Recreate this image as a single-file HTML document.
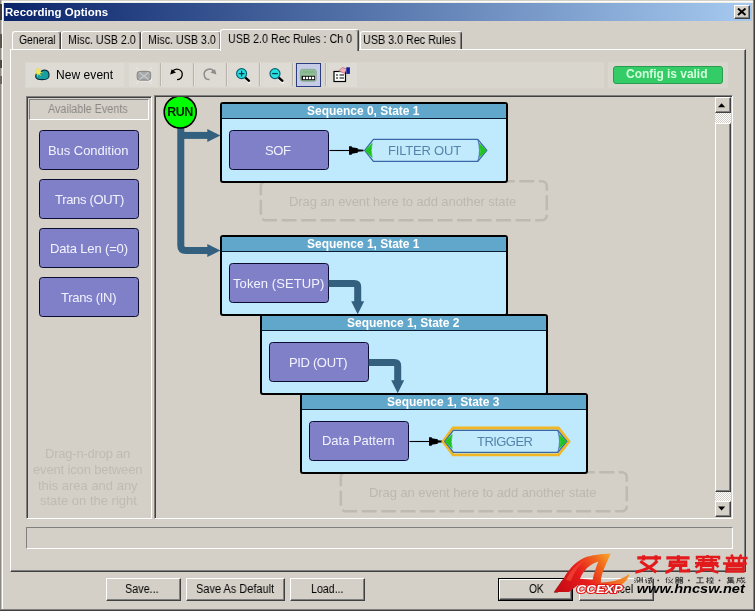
<!DOCTYPE html>
<html><head><meta charset="utf-8">
<style>
*{box-sizing:border-box;margin:0;padding:0}
html,body{width:755px;height:611px;overflow:hidden;background:#d4d0c8}
body{position:relative;font-family:"Liberation Sans",sans-serif;font-size:12px;color:#000}
.a{position:absolute}
.t{position:absolute;white-space:nowrap;will-change:transform}
.sunk2{position:absolute;border:1px solid;border-color:#808080 #fff #fff #808080;box-shadow:inset 1px 1px 0 #404040}
.sunk1{position:absolute;border:1px solid;border-color:#808080 #fff #fff #808080}
.btn{position:absolute;background:#d4d0c8;border:1px solid;border-color:#fff #404040 #404040 #fff;box-shadow:inset -1px -1px 0 #808080}
.tab{position:absolute;background:#d4d0c8;border:1px solid;border-color:#fff #404040 transparent #fff;border-bottom:0;border-radius:3px 3px 0 0;box-shadow:inset -1px 0 0 #808080}
.ev{position:absolute;width:100px;height:39.5px;background:#8080c8;border:1.2px solid #0c0c30;border-radius:3.5px}
.st{position:absolute;width:287.8px;height:80.5px;border:2px solid #000;border-radius:3px;background:#bfeafd;overflow:hidden}
.sh{position:absolute;left:0;right:0;top:0;height:13.6px;background:#61a7cb}
.sl{position:absolute;left:0;right:0;top:13.6px;height:1.3px;background:#0a1c30}
.sep{position:absolute;width:2px;top:63px;height:23px;border-left:1px solid #b8b4ac;border-right:1px solid #e6e4de}
.dash{position:absolute;width:288.5px;height:41.5px;border:2.5px dashed #bebab2;border-radius:6px}
</style></head><body>
<!-- window frame -->
<div class="a" style="left:2px;top:1px;width:751px;height:1px;background:#fff"></div><div class="a" style="left:2px;top:2px;width:751px;height:1px;background:#eeede8"></div>
<div class="a" style="left:2px;top:1px;width:1px;height:608px;background:#fff"></div>
<div class="a" style="left:0;top:609px;width:755px;height:1px;background:#808080"></div>
<div class="a" style="left:0;top:610px;width:755px;height:1px;background:#404040"></div>
<div class="a" style="left:753px;top:0;width:1px;height:610px;background:#808080"></div>
<div class="a" style="left:754px;top:0;width:1px;height:611px;background:#404040"></div>
<div class="a" style="left:0;top:0;width:1px;height:609px;background:#8e8a82"></div><div class="a" style="left:1px;top:0;width:1px;height:609px;background:#c4c0b8"></div><div class="a" style="left:0;top:4px;width:1.5px;height:16px;background:#3a3a3a"></div><div class="a" style="left:0;top:34px;width:1.5px;height:14px;background:#5a5648"></div><div class="a" style="left:0;top:60px;width:1.5px;height:8px;background:#4a4a40"></div><div class="a" style="left:0;top:76px;width:1.5px;height:8px;background:#6a6658"></div>
<!-- title bar -->
<div class="a" style="left:4px;top:3px;width:748px;height:18px;background:linear-gradient(90deg,#0a246a 0%,#a6caf0 100%)"></div>
<div class="btn" style="left:734px;top:5px;width:16px;height:14px"></div>
<svg class="a" style="left:737px;top:8px" width="10" height="8" viewBox="0 0 10 8"><path d="M1 0.5 L8.5 7 M8.5 0.5 L1 7" stroke="#000" stroke-width="1.9" fill="none"/></svg>

<!-- tabs -->
<div class="tab" style="left:12px;top:31px;width:49px;height:19px"></div>
<div class="tab" style="left:61px;top:31px;width:80px;height:19px"></div>
<div class="tab" style="left:141px;top:31px;width:80px;height:19px"></div>
<div class="tab" style="left:360px;top:31px;width:102px;height:19px"></div>
<!-- tab panel -->
<div class="a" style="left:10px;top:49px;width:736px;height:523px;background:#d4d0c8;border:1px solid;border-color:#fff #404040 #404040 #fff;box-shadow:inset -1px -1px 0 #808080"></div>
<div class="tab" style="left:220px;top:29px;width:139px;height:22px"></div>

<!-- toolbar -->
<div class="a" style="left:25px;top:61.5px;width:703px;height:26.3px;background:#d9d6ce"></div><div class="a" style="left:25.5px;top:62.5px;width:98.8px;height:24.5px;background:#dedbd4"></div><div class="a" style="left:128.7px;top:62.5px;width:29.8px;height:24.5px;background:#dedbd4"></div><div class="a" style="left:163px;top:62.5px;width:28.5px;height:24.5px;background:#dedbd4"></div><div class="a" style="left:196px;top:62.5px;width:28.5px;height:24.5px;background:#dedbd4"></div><div class="a" style="left:229px;top:62.5px;width:28.5px;height:24.5px;background:#dedbd4"></div><div class="a" style="left:262px;top:62.5px;width:28.5px;height:24.5px;background:#dedbd4"></div><div class="a" style="left:328px;top:62.5px;width:29.0px;height:24.5px;background:#dedbd4"></div>
<div class="a" style="left:603.5px;top:62px;width:4.5px;height:25.5px;background:#d4d0c8"></div>
<div class="sep" style="left:160px"></div>
<div class="sep" style="left:193px"></div>
<div class="sep" style="left:226px"></div>
<div class="sep" style="left:259px"></div>
<div class="sep" style="left:292px"></div>
<div class="sep" style="left:325px"></div>
<div class="a" style="left:296px;top:63px;width:25px;height:24px;background:#c6cce6;border:1px solid #2c3c80"></div>
<svg class="a" style="left:25px;top:60px" width="340" height="30" viewBox="25 60 340 30">
<!-- new event icon -->
<path d="M35.6 76 C35.6 73 38 72.4 41 72.6 C41.6 70.4 44 69.9 46 70.4 C48.4 71 49.2 73 49 76 C48.8 79 47 79.6 42.5 79.6 C38 79.6 35.6 79.2 35.6 76 Z" fill="#18a0a0" stroke="#0a2c40" stroke-width="1.1"/>
<path d="M38.4 68.2 L38.9 71 L41.4 69 L39.8 71.6 L42.6 72.6 L39.8 73.2 L40.8 75.8 L38.6 73.9 L37.4 76.4 L37.3 73.6 L34.8 74.4 L36.6 72.5 L34.8 70.8 L37.3 71.2 L36.4 68.6 Z" fill="#f4f050" stroke="#d8d040" stroke-width="0.3"/>
<!-- delete (disabled) -->
<path d="M136 67.5 L152 84 M152 67.5 L136 84" stroke="#e6e4de" stroke-width="1.2"/>
<rect x="138" y="72.6" width="14" height="9" rx="2.5" fill="#f2f1ec"/>
<rect x="137.2" y="71.4" width="13.6" height="8.8" rx="2.5" fill="#a6a8a8" stroke="#7c7c7c" stroke-width="0.9"/>
<path d="M139.5 72.5 L148.5 79.5 M148.5 72.5 L139.5 79.5" stroke="#c6cacc" stroke-width="1.3"/>
<!-- undo -->
<path d="M172.5 71.8 A5.2 5.2 0 1 1 177 79.6" fill="none" stroke="#000" stroke-width="1.3"/>
<path d="M170.2 74.6 L171.6 69.2 L176 72.6 Z" fill="#000"/>
<!-- redo -->
<path d="M214 72 A5.2 5.2 0 1 0 209.5 79.6" fill="none" stroke="#8c8c8c" stroke-width="1.5"/>
<path d="M216.4 74.6 L215 69.2 L210.4 72.6 Z" fill="#8c8c8c"/>
<!-- zoom in -->
<path d="M246.4 79.6 L249.6 82.6" stroke="#f4f4f0" stroke-width="2.2" stroke-linecap="round"/><path d="M245.4 77.6 L249 80.8" stroke="#000" stroke-width="2.3" stroke-linecap="round"/>
<circle cx="241.6" cy="73.6" r="5" fill="#28e0e0" stroke="#0a6070" stroke-width="1.2"/>
<path d="M238.8 73.6 H244.4 M241.6 70.8 V76.4" stroke="#0a3c50" stroke-width="1.3"/>
<!-- zoom out -->
<path d="M279.8 79.6 L283 82.6" stroke="#f4f4f0" stroke-width="2.2" stroke-linecap="round"/><path d="M278.8 77.6 L282.4 80.8" stroke="#000" stroke-width="2.3" stroke-linecap="round"/>
<circle cx="275" cy="73.6" r="5" fill="#28e0e0" stroke="#0a6070" stroke-width="1.2"/>
<path d="M272.2 73.6 H277.8" stroke="#0a3c50" stroke-width="1.3"/>
<!-- fit icon -->
<rect x="300.3" y="69.3" width="16" height="12" rx="2.5" fill="#8fbf96" stroke="#7a9a80" stroke-width="0.6"/>
<path d="M302.5 72.5 l1.5 -1 l1.5 1 l1.5 -1 l1.5 1 l1.5 -1 l1.5 1 l1.5 -1 l1.5 1" stroke="#6aa070" stroke-width="0.7" fill="none"/>
<rect x="301.6" y="75.8" width="13.4" height="4.4" fill="#101010"/>
<rect x="303" y="76.8" width="2.2" height="2.4" fill="#fff"/><rect x="306" y="76.8" width="2.2" height="2.4" fill="#fff"/><rect x="309" y="76.8" width="2.2" height="2.4" fill="#fff"/><rect x="312" y="76.8" width="2.2" height="2.4" fill="#fff"/>
<!-- properties -->
<rect x="334" y="71.5" width="11.5" height="10" fill="#fff" stroke="#000" stroke-width="1.2"/>
<path d="M336 75 H338 M339.5 75 H344 M336 78 H338 M339.5 78 H344" stroke="#000" stroke-width="1.1"/>
<path d="M338.5 71 L342.5 67.5 L347 69 L344.5 73.5 L341.5 72 Z" fill="#f0b0b8" stroke="#a04050" stroke-width="0.5"/>
<rect x="346.3" y="67.3" width="3.6" height="6.6" fill="#1020a0"/>
</svg>
<!-- status -->
<div class="a" style="left:613px;top:66px;width:110px;height:18px;background:#33cc66;border:1px solid #2a9c52;border-radius:3px"></div>

<!-- left panel -->
<div class="sunk2" style="left:25.5px;top:95.5px;width:126px;height:423.5px"></div>
<div class="sunk1" style="left:28.5px;top:98.5px;width:120.5px;height:21.5px"></div>
<div class="ev" style="left:39px;top:130px"></div>
<div class="ev" style="left:39px;top:179.2px"></div>
<div class="ev" style="left:39px;top:228.2px"></div>
<div class="ev" style="left:39px;top:277.2px"></div>

<!-- right panel -->
<div class="sunk2" style="left:154px;top:95.3px;width:579px;height:423.7px"></div>
<!-- scrollbar -->
<div class="a" style="left:714.5px;top:97.3px;width:16px;height:419.5px;background:repeating-conic-gradient(#fff 0% 25%, #d4d0c8 0% 50%) 0 0/2px 2px"></div>
<div class="btn" style="left:714.5px;top:97.3px;width:16px;height:15.5px"></div>
<div class="btn" style="left:714.5px;top:122.6px;width:16px;height:369.4px"></div>
<div class="btn" style="left:714.5px;top:501px;width:16px;height:15.8px"></div>
<svg class="a" style="left:714px;top:97px" width="18" height="422" viewBox="714 97 18 422"><path d="M718 107.2 L721.6 103.2 L725.2 107.2 Z" fill="#000"/><path d="M718 506.5 L721.6 510.5 L725.2 506.5 Z" fill="#000"/></svg>

<!-- dashed placeholders -->
<svg class="a" style="left:250px;top:170px" width="400" height="350" viewBox="250 170 400 350"><g fill="none" stroke="#bebab2" stroke-width="2.6" stroke-dasharray="15 4.5">
<rect x="260.8" y="181.3" width="286" height="39" rx="5"/><rect x="340.8" y="472.3" width="286" height="39" rx="5"/></g></svg>

<!-- state boxes -->
<div class="st" style="left:220.4px;top:102.4px"><div class="sh"></div><div class="sl"></div></div>
<div class="st" style="left:220.4px;top:235px"><div class="sh"></div><div class="sl"></div></div>
<div class="st" style="left:260.2px;top:314px"><div class="sh"></div><div class="sl"></div></div>
<div class="st" style="left:300.2px;top:393px"><div class="sh"></div><div class="sl"></div></div>
<div class="ev" style="left:229.1px;top:130px"></div>
<div class="ev" style="left:229.1px;top:263.2px"></div>
<div class="ev" style="left:269.1px;top:342.3px"></div>
<div class="ev" style="left:308.8px;top:421.2px"></div>

<!-- diagram svg -->
<svg class="a" style="left:156px;top:97px" width="560" height="420" viewBox="156 97 560 420">
<g fill="none" stroke="#33607f" stroke-width="7">
<path d="M180.8 126 V245.6 Q180.8 250.6 185.8 250.6 H208"/>
<path d="M180.8 135.4 H208"/>
<path d="M328.6 283.5 H354.2 Q357.7 283.5 357.7 287 V302"/>
<path d="M368.6 362.5 H394.2 Q397.7 362.5 397.7 366 V381"/>
</g>
<g fill="#33607f">
<path d="M207.3 128.9 L220.4 135.4 L207.3 141.9 Z"/>
<path d="M207.3 244.1 L220.4 250.6 L207.3 257.1 Z"/>
<path d="M351.2 301.2 H364.2 L357.7 314.2 Z"/>
<path d="M391.2 380.2 H404.2 L397.7 393.2 Z"/>
</g>
<circle cx="180.2" cy="112" r="16" fill="#00ff00" stroke="#000" stroke-width="1.6"/>
<!-- thin arrows -->
<g>
<path d="M329.5 150.5 H350" stroke="#000" stroke-width="1.1"/>
<path d="M349 146.2 H351.8 V147.3 L357.8 148.2 V149.3 L363.6 149.8 V151.2 L357.8 151.7 V152.8 L351.8 153.7 V154.8 H349 Z" fill="#000"/>
</g>
<g transform="translate(80,291)">
<path d="M329.5 150.5 H350" stroke="#000" stroke-width="1.1"/>
<path d="M349 146.2 H351.8 V147.3 L357.8 148.2 V149.3 L363.6 149.8 V151.2 L357.8 151.7 V152.8 L351.8 153.7 V154.8 H349 Z" fill="#000"/>
</g>
<!-- filter out -->
<g>
<path d="M373.4 139.3 H477.8 L486.8 150.4 L477.8 161.4 H373.4 L364.7 150.4 Z" fill="#c1ebfd" stroke="#3868a8" stroke-width="1.3" stroke-linejoin="round"/>
<path d="M365 150.4 L372.2 143.4 Q370.2 150.4 372.2 157.4 Z" fill="#20c420" stroke="#20c420" stroke-width="0.7" stroke-linejoin="round"/>
<path d="M479.2 143.4 Q481.4 150.4 479.2 157.4 L486.4 150.4 Z" fill="#20c420" stroke="#20c420" stroke-width="0.7" stroke-linejoin="round"/>
<path d="M477.8 139.6 Q481.2 150.4 477.8 161.2" fill="none" stroke="#3868a8" stroke-width="1" opacity="0.8"/>
</g>
<path d="M453 428 H558.5 L569 441.4 L558.5 454.8 H453 L443 441.4 Z" fill="none" stroke="#f0b624" stroke-width="2.8" stroke-linejoin="miter"/>
<g transform="translate(80,291)">
<path d="M373.4 139.3 H477.8 L486.8 150.4 L477.8 161.4 H373.4 L364.7 150.4 Z" fill="#c1ebfd" stroke="#3868a8" stroke-width="1.3" stroke-linejoin="round"/>
<path d="M365 150.4 L372.2 143.4 Q370.2 150.4 372.2 157.4 Z" fill="#20c420" stroke="#20c420" stroke-width="0.7" stroke-linejoin="round"/>
<path d="M479.2 143.4 Q481.4 150.4 479.2 157.4 L486.4 150.4 Z" fill="#20c420" stroke="#20c420" stroke-width="0.7" stroke-linejoin="round"/>
<path d="M477.8 139.6 Q481.2 150.4 477.8 161.2" fill="none" stroke="#3868a8" stroke-width="1" opacity="0.8"/>
</g>
</svg>

<div class="t" style="left:162px;top:105.5px;width:36px;text-align:center;font-size:12.5px;line-height:13px;font-weight:bold;color:#062006;letter-spacing:-0.5px">RUN</div>

<!-- status bar -->
<div class="sunk1" style="left:26px;top:526.5px;width:706.5px;height:22.5px"></div>

<!-- buttons -->
<div class="btn" style="left:105.5px;top:578px;width:75px;height:22.5px"></div>
<div class="btn" style="left:186px;top:578px;width:99px;height:22.5px"></div>
<div class="btn" style="left:289.7px;top:578px;width:75.5px;height:22.5px"></div>
<div class="a" style="left:498px;top:577.5px;width:75px;height:23px;border:1px solid #000"></div>
<div class="btn" style="left:499px;top:578.5px;width:73px;height:21px"></div>
<div class="btn" style="left:578.5px;top:578px;width:75px;height:22.5px"></div>
<div class="t" id="title" style="left:5.2px;top:6.24px;font-size:11px;line-height:12.64px;font-weight:bold;color:#fff;letter-spacing:0.000px;transform:scaleX(1.0404);transform-origin:0 0;">Recording Options</div>
<div class="t" id="tab1" style="left:18.6px;top:34.34px;font-size:12px;line-height:13.79px;font-weight:normal;color:#000;letter-spacing:0.000px;transform:scaleX(0.8594);transform-origin:0 0;">General</div>
<div class="t" id="tab2" style="left:67.5px;top:34.34px;font-size:12px;line-height:13.79px;font-weight:normal;color:#000;letter-spacing:0.000px;transform:scaleX(0.8917);transform-origin:0 0;">Misc. USB 2.0</div>
<div class="t" id="tab3" style="left:147.5px;top:34.34px;font-size:12px;line-height:13.79px;font-weight:normal;color:#000;letter-spacing:0.000px;transform:scaleX(0.8931);transform-origin:0 0;">Misc. USB 3.0</div>
<div class="t" id="tab4" style="left:227.6px;top:32.94px;font-size:12px;line-height:13.79px;font-weight:normal;color:#000;letter-spacing:0.000px;transform:scaleX(0.8945);transform-origin:0 0;">USB 2.0 Rec Rules : Ch 0</div>
<div class="t" id="tab5" style="left:363.4px;top:34.34px;font-size:12px;line-height:13.79px;font-weight:normal;color:#000;letter-spacing:0.000px;transform:scaleX(0.8966);transform-origin:0 0;">USB 3.0 Rec Rules</div>
<div class="t" id="newev" style="left:55.6px;top:68.84px;font-size:12px;line-height:13.79px;font-weight:normal;color:#000;letter-spacing:0.062px;">New event</div>
<div class="t" id="cfg" style="left:626.3px;top:67.84px;font-size:12px;line-height:13.79px;font-weight:bold;color:#d4ffdc;letter-spacing:-0.037px;">Config is valid</div>
<div class="t" id="avail" style="left:47.8px;top:103.04px;font-size:12px;line-height:13.79px;font-weight:normal;color:#8c8a86;letter-spacing:0.000px;transform:scaleX(0.9006);transform-origin:0 0;">Available Events</div>
<div class="t" id="ev1" style="left:48.3px;top:143.54px;font-size:13px;line-height:14.94px;font-weight:normal;color:#f2f2ff;letter-spacing:-0.046px;">Bus Condition</div>
<div class="t" id="ev2" style="left:54.5px;top:192.54px;font-size:13px;line-height:14.94px;font-weight:normal;color:#f2f2ff;letter-spacing:-0.317px;">Trans (OUT)</div>
<div class="t" id="ev3" style="left:49.7px;top:241.54px;font-size:13px;line-height:14.94px;font-weight:normal;color:#f2f2ff;letter-spacing:-0.155px;">Data Len (=0)</div>
<div class="t" id="ev4" style="left:61.3px;top:290.54px;font-size:13px;line-height:14.94px;font-weight:normal;color:#f2f2ff;letter-spacing:-0.281px;">Trans (IN)</div>
<div class="t" id="h1" style="left:44.7px;top:446.94px;font-size:13px;line-height:14.94px;font-weight:normal;color:#bfbbb3;letter-spacing:-0.220px;">Drag-n-drop an</div>
<div class="t" id="h2" style="left:33.1px;top:462.84px;font-size:13px;line-height:14.94px;font-weight:normal;color:#bfbbb3;letter-spacing:-0.149px;">event icon between</div>
<div class="t" id="h3" style="left:38.0px;top:478.63px;font-size:13px;line-height:14.94px;font-weight:normal;color:#bfbbb3;letter-spacing:-0.008px;">this area and any</div>
<div class="t" id="h4" style="left:39.7px;top:494.44px;font-size:13px;line-height:14.94px;font-weight:normal;color:#bfbbb3;letter-spacing:0.003px;">state on the right</div>
<div class="t" id="s01" style="left:306.7px;top:104.74px;font-size:12px;line-height:13.79px;font-weight:bold;color:#fff;letter-spacing:-0.012px;">Sequence 0, State 1</div>
<div class="t" id="s11" style="left:306.7px;top:237.74px;font-size:12px;line-height:13.79px;font-weight:bold;color:#fff;letter-spacing:-0.012px;">Sequence 1, State 1</div>
<div class="t" id="s12" style="left:346.5px;top:316.74px;font-size:12px;line-height:13.79px;font-weight:bold;color:#fff;letter-spacing:-0.012px;">Sequence 1, State 2</div>
<div class="t" id="s13" style="left:386.5px;top:395.74px;font-size:12px;line-height:13.79px;font-weight:bold;color:#fff;letter-spacing:-0.012px;">Sequence 1, State 3</div>
<div class="t" id="sof" style="left:265.3px;top:143.54px;font-size:13px;line-height:14.94px;font-weight:normal;color:#f2f2ff;letter-spacing:-0.417px;">SOF</div>
<div class="t" id="tok" style="left:232.8px;top:276.74px;font-size:13px;line-height:14.94px;font-weight:normal;color:#f2f2ff;letter-spacing:0.082px;">Token (SETUP)</div>
<div class="t" id="pid" style="left:289.3px;top:355.63px;font-size:13px;line-height:14.94px;font-weight:normal;color:#f2f2ff;letter-spacing:-0.349px;">PID (OUT)</div>
<div class="t" id="dp" style="left:322.2px;top:434.34px;font-size:13px;line-height:14.94px;font-weight:normal;color:#f2f2ff;letter-spacing:-0.027px;">Data Pattern</div>
<div class="t" id="fo" style="left:388.4px;top:143.54px;font-size:13px;line-height:14.94px;font-weight:normal;color:#5584aa;letter-spacing:-0.197px;">FILTER OUT</div>
<div class="t" id="trg" style="left:476.8px;top:434.54px;font-size:13px;line-height:14.94px;font-weight:normal;color:#5584aa;letter-spacing:-0.556px;">TRIGGER</div>
<div class="t" id="d1" style="left:289.2px;top:194.63px;font-size:13px;line-height:14.94px;font-weight:normal;color:#bcb8b0;letter-spacing:-0.088px;">Drag an event here to add another state</div>
<div class="t" id="d2" style="left:368.7px;top:485.54px;font-size:13px;line-height:14.94px;font-weight:normal;color:#bcb8b0;letter-spacing:-0.078px;">Drag an event here to add another state</div>
<div class="t" id="b1" style="left:125.4px;top:582.94px;font-size:12px;line-height:13.79px;font-weight:normal;color:#000;letter-spacing:0.000px;transform:scaleX(0.8994);transform-origin:0 0;">Save...</div>
<div class="t" id="b2" style="left:195.9px;top:582.94px;font-size:12px;line-height:13.79px;font-weight:normal;color:#000;letter-spacing:0.000px;transform:scaleX(0.9146);transform-origin:0 0;">Save As Default</div>
<div class="t" id="b3" style="left:311.2px;top:582.94px;font-size:12px;line-height:13.79px;font-weight:normal;color:#000;letter-spacing:0.000px;transform:scaleX(0.8855);transform-origin:0 0;">Load...</div>
<div class="t" id="b4" style="left:528.5px;top:582.94px;font-size:12px;line-height:13.79px;font-weight:normal;color:#000;letter-spacing:0.000px;transform:scaleX(0.8476);transform-origin:0 0;">OK</div>
<div class="t" id="b5" style="left:600.0px;top:582.94px;font-size:12px;line-height:13.79px;font-weight:normal;color:#000;letter-spacing:0.000px;transform:scaleX(0.8887);transform-origin:0 0;">Cancel</div>
<svg class="a" style="left:550px;top:548px;will-change:transform" width="205" height="60" viewBox="550 548 205 60">
<defs>
<linearGradient id="lg" gradientUnits="userSpaceOnUse" x1="560" y1="590" x2="608" y2="554"><stop offset="0" stop-color="#c80c14"/><stop offset="0.45" stop-color="#e81c1c"/><stop offset="0.8" stop-color="#f06a1c"/><stop offset="1" stop-color="#f8a028"/></linearGradient>
<linearGradient id="lg2" gradientUnits="userSpaceOnUse" x1="600" y1="584" x2="629" y2="574"><stop offset="0" stop-color="#e8401c"/><stop offset="1" stop-color="#f89828"/></linearGradient>
</defs>
<path d="M553.6 592.6 L562.6 579.4 L565.4 580 L557.6 592.8 Z" fill="#8a1c12"/>
<path fill-rule="evenodd" fill="url(#lg)" d="M554.6 592 L563.6 578.7 C567 572 574 562.5 583.7 558 C592 554.6 602 554 610.7 553.8 L608 559.7 C605.5 565 602.5 572 601.2 577.7 L600.6 586.6 L578 585 L570.8 590.6 L569 592 Z M580 578.8 C583 571 589 564.2 598.4 561.4 C596.4 566 594 573 592.6 579.8 Z"/>
<path fill="url(#lg2)" d="M600.6 582.4 C611 582.6 622 580 629.4 573.8 C628 580 623 585.4 616 587 L600.4 587 Z"/>
<path d="M566 580 C570 571 577 563 586 559.5 C580 564 574 572 571 581 Z" fill="#f04838" opacity="0.7"/>
<text x="576.6" y="592.7" font-family="Liberation Sans" font-weight="bold" font-style="italic" font-size="11.2" textLength="46" lengthAdjust="spacingAndGlyphs" fill="#fff" stroke="#e01818" stroke-width="2" paint-order="stroke" stroke-linejoin="round">CCEXP</text>
<!-- big chinese chars -->
<g fill="none" stroke="#e21a1c" stroke-width="3.1" stroke-linecap="butt" stroke-linejoin="miter">
<!-- ai -->
<path d="M637.3 557.9 H661 M643.6 555.2 V560.6 M656 555.2 V560.6 M640.3 561.3 L656.3 572.3 M657.3 561 C652 567 645 570.3 635.3 572.3"/>
<!-- ke -->
<path d="M666.3 557.9 H689.6 M678.4 555.2 V560.8 M670.4 562 H685.8 V565.4 H670 Z M674 566.4 C673 569 670.5 571 665.3 572.4 M680.6 566.4 V571 H688.6 V568.8"/>
</g>
<g fill="none" stroke="#e21a1c" stroke-width="2.5">
<!-- sai -->
<path d="M707.5 555 V557 M697 559.5 V557 H719 V559.5 M698 560.3 H717 M703.4 558 V563 M711.6 558 V563 M695 563.3 H718.4 M700 563.5 L695.5 567.5 M714 563.5 L718.6 567 M701.2 565.8 H713 V569.6 H701 Z M704.4 570 L695.6 572.6 M710 570 L718.4 572.6"/>
<!-- pu -->
<path d="M731.2 554.6 L732.8 557 M741.4 554.6 L739.8 557 M725.8 557.9 H747.6 M733 558 V563 M739 558 V563 M728.4 559.4 L729.4 562.2 M744.6 559.4 L743.4 562.2 M723 563.4 H746.8 M727 565.8 H743.4 V571.6 H726.4 Z M727 568.7 H743"/>
</g>
<!-- small subtitle -->
<g fill="none" stroke="#383838" stroke-width="0.95">
<path d="M634.5 578 l1 1 M634.3 580 l1 1 M634.5 583 l1.2 -1.6 M637 577.6 h2.6 v3.4 h-2.6 z M638.3 581 l-1.4 2 M638.8 581 l1.2 1.6 M641 577.8 v3.6 M642.4 577.2 v5.6"/>
<path d="M645.2 577.6 l1 1 M645 579.8 h1.2 v3 l1 -0.8 M647.6 578.6 h4.8 M648 580.4 h2.6 M649.3 580.6 v2.4 M648 583 h2.8 M650.8 577.2 c0 3 0.6 5 1.8 5.8 M651.6 577.2 l0.8 0.8"/>
<path d="M667.4 577.2 l-1.6 2.6 M666.6 579 v4 M669.6 577.2 l0.6 1 M668.6 578.8 c0.6 2 2 3.6 4.2 4.2 M672.8 578.6 c-0.8 2 -2.4 3.8 -4.6 4.4"/>
<path d="M675.8 577.4 h2.6 v2 h-2.6 z M680 577.4 h2.6 v2 h-2.6 z M675.4 580.2 h7.6 M679.2 579.6 l-3.6 1.8 M679.4 579.8 l3.4 1.6 M675.8 581.2 h2.6 v2 h-2.6 z M680 581.2 h2.6 v2 h-2.6 z"/>
<path d="M696.8 577.8 h6.4 M700 577.8 v5 M696.2 582.8 h7.6"/>
<path d="M706.4 578.8 h2.4 M707.6 577.2 v5.8 l-0.8 -0.4 M706.2 581.6 l2.6 -1 M711.4 577 v1 M709.4 578.2 h4.2 M710.4 579 l-1 1.4 M712.4 579 l1.2 1.4 M709.8 581 h3.4 M711.5 581 v2 M709.2 583 h4.6"/>
<path d="M728.8 577 l-1.6 1.8 M728.2 577.8 h5.6 M728.4 577.8 v3.2 M728.4 579 h5 M728.4 580.2 h5 M731 577.8 v3.2 M728.4 581 h5.4 M726.8 582 h7.6 M730.6 581 v2.2 M730.2 582 l-3 1.4 M731 582 l3.2 1.4"/>
<path d="M737.4 578.4 h7.2 M737.6 578.4 c0 2 -0.2 3.6 -1 4.8 M737.8 580.2 h2.4 v2 l-0.6 -0.2 M741.4 577 c0.2 3 1.2 5 3.6 6 v-1.2 M744.6 579.8 c-0.8 1.4 -2 2.6 -3.6 3.4 M743.4 577 l0.8 0.8"/>
</g>
<g fill="#383838"><circle cx="658.2" cy="580.4" r="0.9"/><circle cx="688.9" cy="580.4" r="0.9"/><circle cx="719.5" cy="580.4" r="0.9"/></g>
<text x="636.8" y="593" font-family="Liberation Sans" font-weight="bold" font-style="italic" font-size="12.4" textLength="108" lengthAdjust="spacingAndGlyphs" fill="#000">www.hncsw.net</text>
</svg>

</body></html>
